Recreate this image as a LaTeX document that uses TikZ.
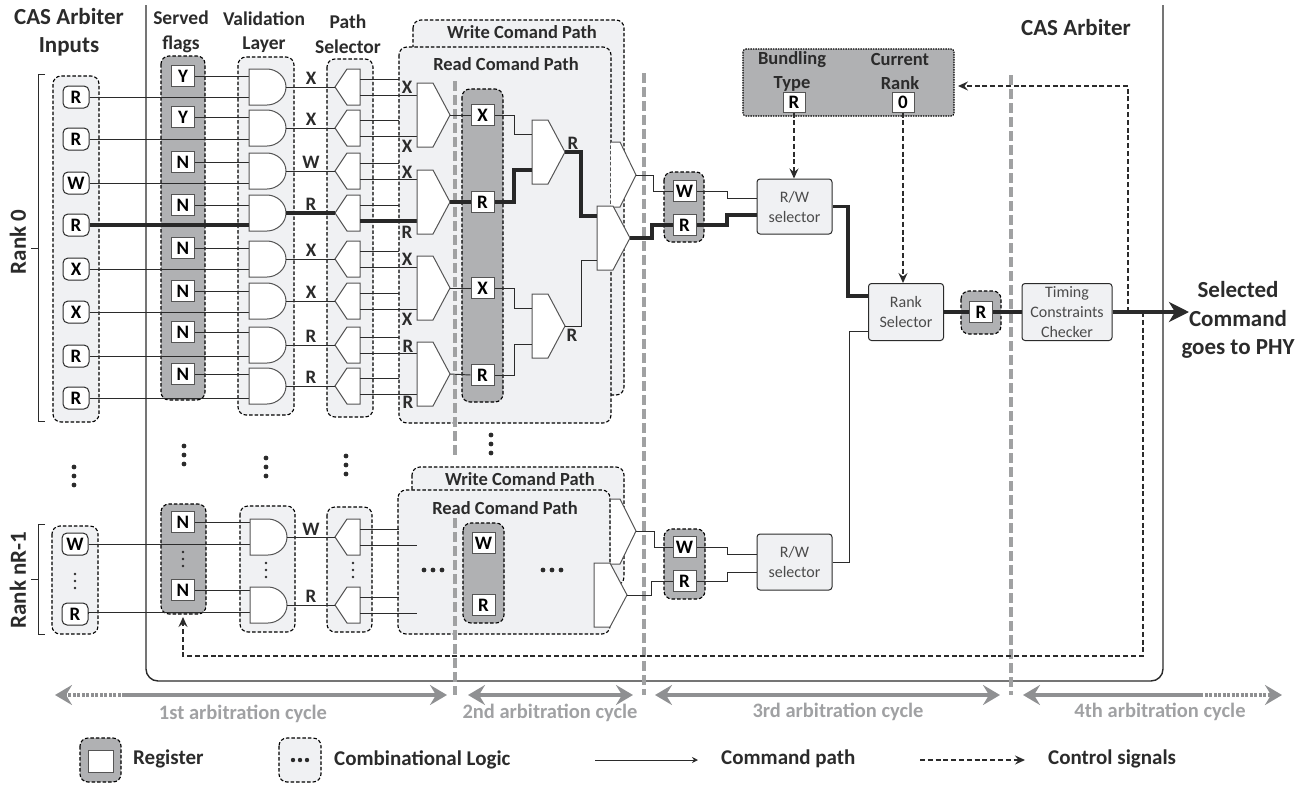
\documentclass[tikz,border=0pt]{standalone}
\usepackage{fontspec}
\setmainfont{Carlito}
\usepackage{xcolor}
\usetikzlibrary{arrows.meta}

\definecolor{logicfill}{HTML}{F0F1F3}
\definecolor{regfill}{HTML}{B0B1B3}
\definecolor{cyclegray}{HTML}{8F9092}
\definecolor{cycletext}{HTML}{A0A1A3}
\definecolor{inkline}{HTML}{2B2B2B}

\tikzset{
    wire/.style={draw=inkline, line width=0.95pt},
    thickwire/.style={draw=inkline!90!black, line width=3.4pt},
    ctrl/.style={draw=inkline, line width=1.3pt, dash pattern=on 5pt off 2.8pt, -{Stealth[length=10pt,width=9pt,inset=3.5pt]}},
    logicgrp/.style={fill=logicfill, draw=black, line width=1.1pt, dash pattern=on 3.5pt off 2pt, rounded corners=8pt},
    reggrp/.style={fill=regfill, draw=black, line width=1.1pt, dash pattern=on 3.5pt off 2pt, rounded corners=8pt},
    gatebox/.style={fill=white, draw=inkline!80, line width=1pt},
    regbox/.style={fill=white, draw=inkline!80, line width=1pt, minimum width=23pt, minimum height=21pt, inner sep=0pt, font=\fontsize{19}{19}\selectfont\bfseries},
    inbox/.style={regbox, draw=inkline, rounded corners=5pt, minimum width=26pt, minimum height=22pt},
    selbox/.style={fill=logicfill, draw=inkline, line width=1pt, rounded corners=3pt, align=center, inner sep=0pt, font=\fontsize{16}{20}\selectfont, text=inkline!85},
    tag/.style={inner sep=0pt, font=\fontsize{19}{19}\selectfont\bfseries, text=inkline},
    heading/.style={inner sep=0pt, align=center, font=\fontsize{19.5}{24.5}\selectfont\bfseries, text=inkline},
    pathtitle/.style={inner sep=0pt, align=center, font=\fontsize{18.5}{24}\selectfont\bfseries, text=inkline},
    bigheading/.style={inner sep=0pt, align=center, font=\fontsize{23}{28.5}\selectfont\bfseries, text=inkline},
    legendtag/.style={inner sep=0pt, anchor=west, font=\fontsize{21}{21}\selectfont\bfseries, text=inkline},
    cycleline/.style={draw=cyclegray, line width=4pt},
    cyclesep/.style={draw=cyclegray!85, line width=4pt, dash pattern=on 10pt off 4pt},
    cycletag/.style={inner sep=0pt, font=\fontsize{20.5}{20.5}\selectfont\bfseries, text=cycletext}
}

% and gate: name, left x, output y
\newcommand{\andgate}[3]{%
    \filldraw[gatebox] (#2,#3-18) -- (#2+18,#3-18) .. controls (#2+28,#3-18) and (#2+37,#3-10) .. (#2+37,#3)
        .. controls (#2+37,#3+10) and (#2+28,#3+18) .. (#2+18,#3+18) -- (#2,#3+18) -- cycle;
    \coordinate (#1-out) at (#2+37,#3);
}
% one input, two outputs: name, tip x, y
\newcommand{\demuxgate}[3]{%
    \filldraw[gatebox] (#2+25,#3-18) -- (#2+12,#3-18) -- (#2,#3) -- (#2+12,#3+18) -- (#2+25,#3+18) -- cycle;
    \coordinate (#1-in) at (#2,#3);
    \coordinate (#1-a) at (#2+25,#3-8);
    \coordinate (#1-b) at (#2+25,#3+8);
}
% two inputs, one output: name, left x, tip y, half height, input offset
\newcommand{\muxgate}[5]{%
    \filldraw[gatebox] (#2,#3-#4) -- (#2+16,#3-#4) -- (#2+33,#3) -- (#2+16,#3+#4) -- (#2,#3+#4) -- cycle;
    \coordinate (#1-a) at (#2,#3-#5);
    \coordinate (#1-b) at (#2,#3+#5);
    \coordinate (#1-out) at (#2+33,#3);
}
% three dots, vertical
\newcommand{\vdotsbig}[2]{%
    \foreach \k in {-9,0,9} \fill[inkline] (#1,#2+\k) circle (2.4pt);
}
\newcommand{\vdotssmall}[2]{%
    \foreach \k in {-7,0,7} \fill[inkline] (#1,#2+\k) circle (1.4pt);
}
\newcommand{\hdotsbig}[2]{%
    \foreach \k in {-9,0,9} \fill[inkline] (#1+\k,#2) circle (2.4pt);
}

\begin{document}
\begin{tikzpicture}[x=1pt, y=-1pt, >=stealth]
    \useasboundingbox (0,0) rectangle (1307,785);

    % Arbiter frame
    \draw[draw=inkline, line width=1.4pt, rounded corners=12pt] (146,5) -- (146,681) -- (1163,681) -- (1163,5);

    % Headings
    \node[bigheading] (tInputs) at (69,32) {CAS Arbiter\\Inputs};
    \node[bigheading] (tArbiter) at (1076,28) {CAS Arbiter};
    \node[heading] (tFlags) at (181,32) {Served\\flags};
    \node[heading] (tValid) at (264,32) {Validation\\Layer};
    \node[heading] (tPath) at (348,34) {Path\\Selector};
    \node[bigheading] (tOut) at (1238,320) {Selected\\Command\\goes to PHY};
    \node[bigheading, rotate=90] (tRankA) at (18,242) {Rank 0};
    \node[bigheading, rotate=90] (tRankB) at (18,580) {Rank nR-1};

    % Rank brackets
    \draw[wire] (45,74) -- (38,74) -- (38,421) -- (45,421);
    \draw[wire] (38,248) -- (31,248);
    \draw[wire] (45,524) -- (38,524) -- (38,634) -- (45,634);
    \draw[wire] (38,579) -- (31,579);

    % Groups, upper rank
    \draw[logicgrp] (53,76) rectangle (99,422);
    \draw[reggrp] (161,56) rectangle (205,400);
    \draw[logicgrp] (238,57) rectangle (294,415);
    \draw[logicgrp] (327,59) rectangle (373,417);
    \draw[logicgrp] (413,20) rectangle (624,395);
    \draw[logicgrp] (399,47) rectangle (611,423);
    \draw[reggrp] (462,89) rectangle (503,402);
    \node[pathtitle] (tWriteA) at (522,32) {Write Comand Path};
    \node[pathtitle] (tReadA) at (506,64) {Read Comand Path};

    % Groups, lower rank
    \draw[logicgrp] (52,526) rectangle (98,634);
    \draw[reggrp] (161,504) rectangle (206,614);
    \draw[logicgrp] (240,506) rectangle (295,632);
    \draw[logicgrp] (327,507) rectangle (372,632);
    \draw[logicgrp] (412,467) rectangle (624,585);
    \draw[logicgrp] (398,490) rectangle (610,634);
    \draw[reggrp] (463,523) rectangle (504,623);
    \node[pathtitle] (tWriteB) at (520,479) {Write Comand Path};
    \node[pathtitle] (tReadB) at (505,508) {Read Comand Path};

    % Groups, right side
    \draw[reggrp] (664,172) rectangle (704,242);
    \draw[reggrp] (664,529) rectangle (705,599);
    \draw[reggrp, rounded corners=3pt, dash pattern=on 1.5pt off 1pt] (743,49) rectangle (954,116);
    \draw[reggrp] (961,291) rectangle (1001,334);

    % Cycle separators
    \draw[cyclesep] (455,81) -- (455,457);
    \draw[cyclesep] (455,518) -- (455,695);
    \draw[cyclesep] (644,73) -- (644,695);
    \draw[cyclesep] (1011,75) -- (1011,695);

    \coordinate (rdin) at (399,0);
    \coordinate (muxin) at (417,0);

    % Eight rows of the upper rank: input, flag, validation gate, path selector
    \foreach \i/\inp/\iy/\flag/\fy/\oy/\lbl in {1/R/97/Y/76/87/X, 2/R/139/Y/117/128/X, 3/W/183/N/162/171/W, 4/R/225/N/205/213/R,
            5/X/269/N/248/259/X, 6/X/312/N/291/301/X, 7/R/356/N/332/345/R, 8/R/398/N/374/386/R} {
        \node[inbox] (in\i) at (76,\iy) {\inp};
        \node[regbox] (fl\i) at (183,\fy) {\flag};
        \coordinate (gt\i-a) at (249,\fy);
        \coordinate (gt\i-b) at (249,\iy);
        \draw[wire] (in\i.east) -- (gt\i-b);
        \draw[wire] (fl\i.east) -- (gt\i-a);
        \andgate{gt\i}{249}{\oy}
        \demuxgate{ds\i}{335}{\oy}
        \draw[wire] (gt\i-out) -- (ds\i-in);
        \draw[wire] (ds\i-a) -- (ds\i-a -| rdin);
        \draw[wire] (ds\i-b) -- (ds\i-b -| muxin);
        \node[tag] (lb\i) at (311,\oy-9) {\lbl};
    }

    % Selected command, upper rank
    \draw[thickwire] (in4.east) -- (gt4-b);
    \draw[thickwire] (gt4-out) -- (ds4-in);
    \draw[thickwire] (ds4-b) -- (ds4-b -| muxin);

    % First mux column and registers
    \muxgate{mA}{417}{115}{32}{21}
    \muxgate{mB}{417}{202}{32}{21}
    \muxgate{mC}{417}{288}{32}{21}
    \muxgate{mD}{417}{374}{32}{21}
    \node[regbox] (rA) at (482.5,115) {X};
    \node[regbox] (rB) at (482.5,202) {R};
    \node[regbox] (rC) at (482.5,288) {X};
    \node[regbox] (rD) at (482.5,375) {R};
    \draw[wire] (mA-out) -- (rA.west);
    \draw[thickwire] (mB-out) -- (rB.west);
    \draw[wire] (mC-out) -- (rC.west);
    \draw[wire] (mD-out) -- (rD.west);
    \foreach \n/\x/\y/\t in {a/407/87/X, b/407/146/X, c/407/172/X, d/407/232/R, e/407/259/X, f/407/319/X, g/408/346/R, h/408/402/R} {
        \node[tag] (lm\n) at (\x,\y) {\t};
    }

    % Second mux column
    \muxgate{mE}{532}{152}{32}{18}
    \muxgate{mF}{532}{326}{32}{18}
    \draw[wire] (rA.east) -| (514,134) -- (mE-a);
    \draw[thickwire] (rB.east) -| (514,170) -- (mE-b);
    \draw[wire] (rC.east) -| (514,308) -- (mF-a);
    \draw[wire] (rD.east) -| (514,344) -- (mF-b);
    \node[tag] (lmE) at (573,143) {R};
    \node[tag] (lmF) at (572,335) {R};

    % Write and read outputs
    \filldraw[gatebox] (611,142) -- (620,142) -- (636,175) -- (620,207) -- (611,207);
    \coordinate (mW-out) at (636,175);
    \muxgate{mG}{597}{238}{32}{22}
    \draw[thickwire] (mE-out) -| (581,216) -- (mG-a);
    \draw[wire] (mF-out) -| (581,260) -- (mG-b);

    \node[regbox] (rW) at (684.5,191) {W};
    \node[regbox] (rR) at (684.5,225) {R};
    \draw[wire] (mW-out) -| (653,191) -- (rW.west);
    \draw[thickwire] (mG-out) -| (652,225) -- (rR.west);

    % Registers of the lower rank
    \node[inbox] (inW) at (75,544) {W};
    \node[inbox] (inR) at (75,614) {R};
    \node[regbox] (flW) at (183,522) {N};
    \node[regbox] (flR) at (183,590) {N};
    \coordinate (gtW-a) at (250,522);
    \coordinate (gtW-b) at (250,544);
    \coordinate (gtR-a) at (250,590);
    \coordinate (gtR-b) at (250,612);
    \draw[wire] (inW.east) -- (gtW-b);
    \draw[wire] (inR.east) -- (gtR-b -| inR.east) -- (gtR-b);
    \draw[wire] (flW.east) -- (gtW-a);
    \draw[wire] (flR.east) -- (gtR-a);
    \andgate{gtW}{250}{537}
    \andgate{gtR}{250}{605}
    \demuxgate{dsW}{335}{537}
    \demuxgate{dsR}{335}{605}
    \draw[wire] (gtW-out) -- (dsW-in);
    \draw[wire] (gtR-out) -- (dsR-in);
    \draw[wire] (dsW-a) -- (dsW-a -| rdin);
    \draw[wire] (dsW-b) -- (dsW-b -| muxin);
    \draw[wire] (dsR-a) -- (dsR-a -| rdin);
    \draw[wire] (dsR-b) -- (dsR-b -| muxin);
    \node[tag] (lbW) at (311,529) {W};
    \node[tag] (lbR) at (311,596) {R};
    \node[regbox] (rE) at (483.5,543) {W};
    \node[regbox] (rF) at (483.5,605) {R};

    \filldraw[gatebox] (611,499) -- (620,499) -- (636,531) -- (620,564) -- (611,564);
    \coordinate (mX-out) at (636,531);
    \muxgate{mH}{594}{595}{32}{20}
    \node[regbox] (rX) at (684.5,547) {W};
    \node[regbox] (rY) at (684.5,581) {R};
    \draw[wire] (mX-out) -| (654,547) -- (rX.west);
    \draw[wire] (mH-out) -| (651,581) -- (rY.west);

    % Dots
    \vdotsbig{74}{476}
    \vdotsbig{184}{455}
    \vdotsbig{266}{467}
    \vdotsbig{346}{465}
    \vdotsbig{491}{444}
    \hdotsbig{433}{570}
    \hdotsbig{552}{570}
    \vdotssmall{75}{581}
    \vdotssmall{183}{559}
    \vdotssmall{266}{570}
    \vdotssmall{353}{570}

    % Selectors
    \node[selbox, minimum width=75pt, minimum height=55pt] (sRW) at (794.5,206.5) {R/W\\selector};
    \node[selbox, minimum width=75pt, minimum height=56pt] (sRX) at (794.5,562) {R/W\\selector};
    \node[selbox, minimum width=75pt, minimum height=57pt] (sRank) at (906,312) {Rank\\Selector};
    \node[selbox, minimum width=90pt, minimum height=57pt] (sTime) at (1067,312) {Timing\\Constraints\\Checker};
    \node[regbox] (rO) at (981,312) {R};

    \draw[wire] (rW.east) -| (727,198) -- ([yshift=8.5pt]sRW.west);
    \draw[thickwire] (rR.east) -| (727,215) -- ([yshift=-8.5pt]sRW.west);
    \draw[wire] (rX.east) -| (727,554) -- ([yshift=8pt]sRX.west);
    \draw[wire] (rY.east) -| (727,572) -- ([yshift=-10pt]sRX.west);
    \draw[thickwire] (sRW.east) -| (848,296) -- ([yshift=16pt]sRank.west);
    \draw[wire] (sRX.east) -| (849,331) -- ([yshift=-19pt]sRank.west);
    \draw[thickwire] (sRank.east) -- (rO.west);
    \draw[thickwire] (rO.east) -- (sTime.west);

    % Bundling registers
    \node[regbox, minimum width=22pt, minimum height=20pt] (rBund) at (794,102) {R};
    \node[regbox, minimum width=22pt, minimum height=20pt] (rCurr) at (903,102) {0};
    \node[pathtitle] (tBund) at (792,71) {Bundling\\Type};
    \node[pathtitle] (tCurr) at (900,71) {Current\\Rank};

    % Control signals
    \coordinate (ctlA) at (1128,312);
    \coordinate (ctlB) at (1143,312);
    \coordinate (ctlC) at (958,86);
    \coordinate (ctlD) at (183,617);
    \draw[ctrl] (rBund.south) -- (sRW.north -| rBund);
    \draw[ctrl] (rCurr.south) -- (sRank.north -| rCurr);
    \draw[ctrl] (ctlA) |- (ctlC);
    \draw[ctrl] (ctlB) |- (183,656) -- (ctlD);

    % Output arrow
    \coordinate (cmdOut) at (1189,312);
    \draw[draw=inkline, line width=3.4pt, -{Stealth[length=20pt,width=20pt,inset=6pt]}] (sTime.east) -- (cmdOut);

    % Cycle arrows
    \coordinate (cA) at (55,695); \coordinate (cB) at (125,695); \coordinate (cC) at (447,695);
    \coordinate (cD) at (468,695); \coordinate (cE) at (633,695);
    \coordinate (cF) at (655,695); \coordinate (cG) at (1000,695);
    \coordinate (cH) at (1023,695); \coordinate (cI) at (1200,695); \coordinate (cJ) at (1282,695);
    \draw[cycleline, -{Stealth[length=17pt,width=20pt,inset=6pt]}] (cB) -- (cC);
    \draw[cycleline, dash pattern=on 3pt off 1.5pt, -{Stealth[length=17pt,width=20pt,inset=6pt]}] (cB) -- (cA);
    \draw[cycleline, {Stealth[length=17pt,width=20pt,inset=6pt]}-{Stealth[length=17pt,width=20pt,inset=6pt]}] (cD) -- (cE);
    \draw[cycleline, {Stealth[length=17pt,width=20pt,inset=6pt]}-{Stealth[length=17pt,width=20pt,inset=6pt]}] (cF) -- (cG);
    \draw[cycleline, -{Stealth[length=17pt,width=20pt,inset=6pt]}] (cI) -- (cH);
    \draw[cycleline, dash pattern=on 3pt off 1.5pt, -{Stealth[length=17pt,width=20pt,inset=6pt]}] (cI) -- (cJ);
    \node[cycletag] (cyA) at (243,714) {1st arbitration cycle};
    \node[cycletag] (cyB) at (550,713) {2nd arbitration cycle};
    \node[cycletag] (cyC) at (838,712) {3rd arbitration cycle};
    \node[cycletag] (cyD) at (1160,712) {4th arbitration cycle};

    % Legend
    \draw[reggrp] (80,738) rectangle (121,782);
    \node[regbox, minimum width=25pt, minimum height=22pt] (lgReg) at (100.5,761) {};
    \node[legendtag] (lgRegT) at (133,759) {Register};
    \draw[logicgrp] (279,738) rectangle (321,782);
    \foreach \k in {-7,0,7} \fill[inkline] (300+\k,760) circle (2.2pt);
    \node[legendtag] (lgLogT) at (334,760) {Combinational Logic};
    \coordinate (lgA) at (595,760); \coordinate (lgB) at (698,760);
    \draw[wire, -{Stealth[length=6pt,width=6pt,inset=2pt]}] (lgA) -- (lgB);
    \node[legendtag] (lgCmdT) at (721,759) {Command path};
    \coordinate (lgC) at (920,760); \coordinate (lgD) at (1025,760);
    \draw[ctrl] (lgC) -- (lgD);
    \node[legendtag] (lgCtlT) at (1048,759) {Control signals};
\end{tikzpicture}
\end{document}
